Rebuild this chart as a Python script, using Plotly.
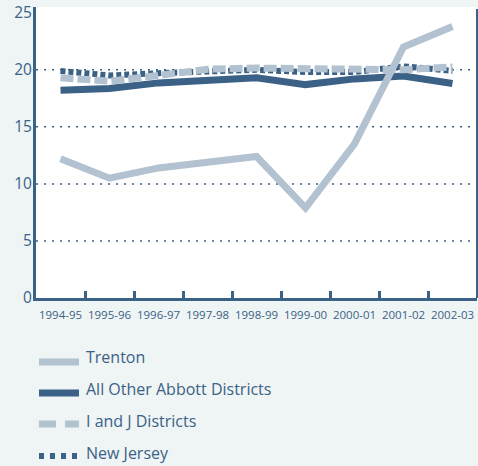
import plotly.graph_objects as go

years = ["1994-95", "1995-96", "1996-97", "1997-98", "1998-99",
         "1999-00", "2000-01", "2001-02", "2002-03"]
trenton = [12.2, 10.5, 11.4, 11.9, 12.4, 7.9, 13.5, 22.0, 23.8]
abbott = [18.2, 18.35, 18.85, 19.05, 19.3, 18.7, 19.2, 19.45, 18.8]
ij = [19.3, 19.0, 19.5, 20.05, 20.15, 20.1, 20.0, 20.0, 20.25]
nj = [19.9, 19.5, 19.7, 19.9, 20.0, 19.8, 19.8, 20.3, 19.9]
yticks = [0, 5, 10, 15, 20, 25]
grid_vals = [5, 10, 15, 20]

DARK = "#3b6186"
LIGHT = "#b2c2d0"
BG = "#eff5f5"
FONT = "Open Sans"

series = [
    ("Trenton", trenton, LIGHT, "solid", 7),
    ("All Other Abbott Districts", abbott, DARK, "solid", 7),
    ("I and J Districts", ij, LIGHT, "13px,4px", 7),
    ("New Jersey", nj, DARK, "5px,3px", 6),
]
draw_order = [1, 3, 2, 0]  # Trenton drawn on top, I and J over New Jersey

fig = go.Figure()
for i in draw_order:
    name, vals, col, dash, w = series[i]
    fig.add_trace(go.Scatter(x=years, y=vals, mode="lines", name=name,
                             line=dict(color=col, width=w, dash=dash),
                             showlegend=False, hoverinfo="skip"))

# plot area in pixels: x 36..477, y 7..298
L, R, T, B = 36, 477, 7, 298
W, H = R - L, B - T
def px(x):
    return (x - L) / W
def py(y):
    return (B - y) / H

shapes = []
for g in grid_vals:
    shapes.append(dict(type="line", xref="paper", yref="y", x0=0, x1=1, y0=g, y1=g,
                       line=dict(color=DARK, width=1.5, dash="2px,6px"), layer="below"))
shapes.append(dict(type="line", xref="paper", yref="paper", x0=px(477), x1=px(477),
                   y0=0, y1=py(9), line=dict(color=DARK, width=2)))

annotations = []
legend_rows = [(357, 362), (389, 393), (421, 424), (453, 456)]
for (name, vals, col, dash, w), (ty, ly) in zip(series, legend_rows):
    ldash = dash
    if name == "I and J Districts":
        ldash = "17px,9px"
    if name == "New Jersey":
        ldash = "5px,6px"
    shapes.append(dict(type="line", xref="paper", yref="paper",
                       x0=px(39), x1=px(79), y0=py(ly), y1=py(ly),
                       line=dict(color=col, width=w, dash=ldash)))
    annotations.append(dict(text=name, xref="paper", yref="paper", x=px(84), y=py(ty),
                            xanchor="left", yanchor="middle", showarrow=False,
                            font=dict(family=FONT, size=16, color=DARK)))

fig.update_layout(
    width=478, height=466,
    margin=dict(l=L, r=478 - R, t=T, b=466 - B),
    paper_bgcolor=BG, plot_bgcolor="white",
    font=dict(family=FONT, color=DARK),
    shapes=shapes, annotations=annotations,
    xaxis=dict(type="category", tickson="boundaries", ticks="inside", ticklen=7,
               tickwidth=2.5, tickcolor=DARK, showline=True, linecolor=DARK,
               linewidth=3, showgrid=False, zeroline=False, tickangle=0,
               automargin=False, ticklabelstandoff=4,
               categoryorder="array", categoryarray=years,
               tickfont=dict(size=11.5, color=DARK), range=[-0.5, 8.5]),
    yaxis=dict(range=[0, 25.5], tickvals=yticks, showgrid=False, zeroline=False,
               showline=True, linecolor=DARK, linewidth=3, ticks="",
               automargin=False, ticklabelstandoff=-2,
               tickfont=dict(size=15.5, color=DARK)),
)

fig.write_html("out.html", config={"displayModeBar": False},
               post_script="document.body.style.margin='0';document.body.style.padding='0';")
